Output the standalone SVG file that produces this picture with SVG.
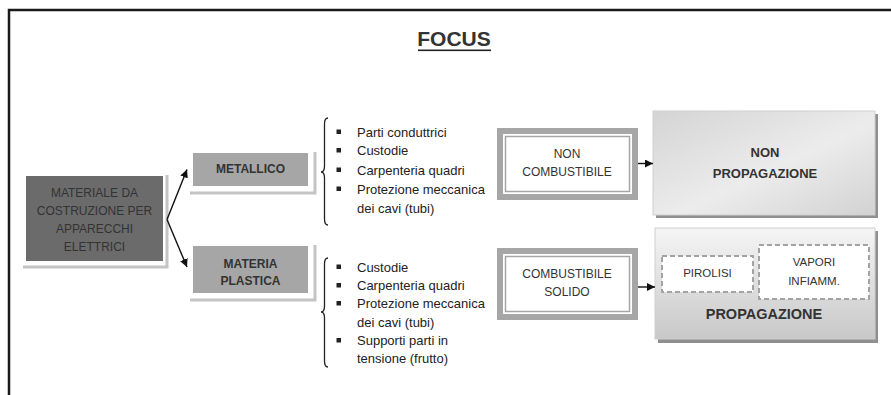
<svg xmlns="http://www.w3.org/2000/svg" width="891" height="395" viewBox="0 0 891 395">
<defs>
<style>
text{font-family:"Liberation Sans",Arial,sans-serif;fill:#333;text-anchor:middle}
.lst{font-size:13px;fill:#222;text-anchor:start}
.sm{font-size:12px}
.b{font-weight:bold}
.sh{fill:none;stroke:#c4c4c4;stroke-width:3}
.bul{fill:#222}
.cn{stroke:#111;stroke-width:1.4;fill:none}
.dash{fill:#fff;stroke:#a3a3a3;stroke-width:2;stroke-dasharray:5 3}
</style>
<marker id="ah" viewBox="0 0 10 10" refX="10" refY="5" markerWidth="8" markerHeight="8" markerUnits="userSpaceOnUse" orient="auto"><path d="M0,0 L10,5 L0,10 z" fill="#111"/></marker>
<linearGradient id="g1" x1="0" y1="0" x2="1" y2="1"><stop offset="0" stop-color="#d4d4d4"/><stop offset="0.55" stop-color="#ececec"/><stop offset="1" stop-color="#d2d2d2"/></linearGradient>
<linearGradient id="g2" x1="0" y1="0" x2="0" y2="1"><stop offset="0" stop-color="#f5f5f5"/><stop offset="1" stop-color="#c8c8c8"/></linearGradient>
</defs>
<rect width="891" height="395" fill="#fff"/>
<path d="M9,395 L9,10 L891,10" fill="none" stroke="#1a1a1a" stroke-width="2.5"/>
<g id="title">
<text x="454" y="46" font-size="21" class="b" fill="#222">FOCUS</text>
<rect x="418" y="49.5" width="73" height="1.6" fill="#222"/>
</g>
<g id="materiale">
<path class="sh" d="M167,175 L167,267 L23,267"/>
<rect x="26" y="176" width="137" height="85" fill="#6b6b6b"/>
<text class="sm" x="94.5" y="196.5" fill="#3a3a3a">MATERIALE DA</text>
<text class="sm" x="94.5" y="214.5" fill="#3a3a3a">COSTRUZIONE PER</text>
<text class="sm" x="94.5" y="232.5" fill="#3a3a3a">APPARECCHI</text>
<text class="sm" x="94.5" y="250.5" fill="#3a3a3a">ELETTRICI</text>
</g>
<g id="metallico">
<path class="sh" d="M315,152 L315,193 L190,193"/>
<rect x="193" y="153" width="115" height="33" fill="#a6a6a6"/>
<text class="sm b" x="250.5" y="173">METALLICO</text>
</g>
<g id="plastica">
<path class="sh" d="M315,245 L315,300 L190,300"/>
<rect x="193" y="246" width="115" height="47" fill="#a6a6a6"/>
<text class="sm b" x="250.5" y="267.5">MATERIA</text>
<text class="sm b" x="250.5" y="284.5">PLASTICA</text>
</g>
<g id="lista-metallico">
<path d="M328,118 Q324.5,118 324.5,124 L324.5,166 Q324.5,172 321,172 Q324.5,172 324.5,178 L324.5,219 Q324.5,225 328,225" fill="none" stroke="#222" stroke-width="1.3"/>
<rect class="bul" x="336.5" y="129.5" width="4.5" height="4.5"/>
<rect class="bul" x="336.5" y="148" width="4.5" height="4.5"/>
<rect class="bul" x="336.5" y="167.5" width="4.5" height="4.5"/>
<rect class="bul" x="336.5" y="186.5" width="4.5" height="4.5"/>
<text class="lst" x="357" y="136.5">Parti conduttrici</text>
<text class="lst" x="357" y="155">Custodie</text>
<text class="lst" x="357" y="174.5">Carpenteria quadri</text>
<text class="lst" x="357" y="193.5">Protezione meccanica</text>
<text class="lst" x="357" y="212.5">dei cavi (tubi)</text>
</g>
<g id="lista-plastica">
<path d="M328,258 Q324.5,258 324.5,264 L324.5,306 Q324.5,312 321,312 Q324.5,312 324.5,318 L324.5,361 Q324.5,367 328,367" fill="none" stroke="#222" stroke-width="1.3"/>
<rect class="bul" x="336.5" y="264.5" width="4.5" height="4.5"/>
<rect class="bul" x="336.5" y="283" width="4.5" height="4.5"/>
<rect class="bul" x="336.5" y="301" width="4.5" height="4.5"/>
<rect class="bul" x="336.5" y="338" width="4.5" height="4.5"/>
<text class="lst" x="357" y="271.5">Custodie</text>
<text class="lst" x="357" y="290">Carpenteria quadri</text>
<text class="lst" x="357" y="308">Protezione meccanica</text>
<text class="lst" x="357" y="326.5">dei cavi (tubi)</text>
<text class="lst" x="357" y="345">Supporti parti in</text>
<text class="lst" x="357" y="363">tensione (frutto)</text>
</g>
<g id="noncombustibile">
<rect x="500" y="131" width="135" height="66" fill="#fff" stroke="#a6a6a6" stroke-width="6"/>
<rect x="505.5" y="136.5" width="124" height="55" fill="none" stroke="#a6a6a6" stroke-width="1.5"/>
<text class="sm" x="567" y="157.5">NON</text>
<text class="sm" x="567" y="175.5">COMBUSTIBILE</text>
</g>
<g id="combustibile">
<rect x="500" y="251" width="135" height="66" fill="#fff" stroke="#a6a6a6" stroke-width="6"/>
<rect x="505.5" y="256.5" width="124" height="55" fill="none" stroke="#a6a6a6" stroke-width="1.5"/>
<text class="sm" x="567" y="277.5">COMBUSTIBILE</text>
<text class="sm" x="567" y="295.5">SOLIDO</text>
</g>
<g id="nonpropagazione">
<rect x="656" y="114" width="222" height="104" fill="#8f8f8f"/>
<rect x="653" y="111" width="222" height="104" fill="url(#g1)" stroke="#cfcfcf" stroke-width="1"/>
<text class="b" font-size="13" x="765" y="156.5">NON</text>
<text class="b" font-size="13" x="765" y="177.5">PROPAGAZIONE</text>
</g>
<g id="propagazione">
<rect x="658" y="231" width="220" height="112" fill="#8f8f8f"/>
<rect x="655" y="228" width="220" height="111" fill="url(#g2)" stroke="#cfcfcf" stroke-width="1"/>
<text class="b" font-size="14.5" x="764" y="318.5">PROPAGAZIONE</text>
</g>
<g id="pirolisi">
<rect class="dash" x="662" y="256" width="91" height="36"/>
<text font-size="11.5" x="707.5" y="277">PIROLISI</text>
</g>
<g id="vapori">
<rect class="dash" x="759" y="245" width="110" height="54"/>
<text font-size="11.5" x="814" y="266">VAPORI</text>
<text font-size="11.5" x="814" y="284.5">INFIAMM.</text>
</g>
<g id="connectors">
<line class="cn" x1="167" y1="219.5" x2="187" y2="169.5" marker-end="url(#ah)"/>
<line class="cn" x1="167" y1="219.5" x2="187" y2="267" marker-end="url(#ah)"/>
<line class="cn" x1="638" y1="163.5" x2="653" y2="163.5" marker-end="url(#ah)"/>
<line class="cn" x1="638" y1="287" x2="655" y2="287" marker-end="url(#ah)"/>
</g>
</svg>
